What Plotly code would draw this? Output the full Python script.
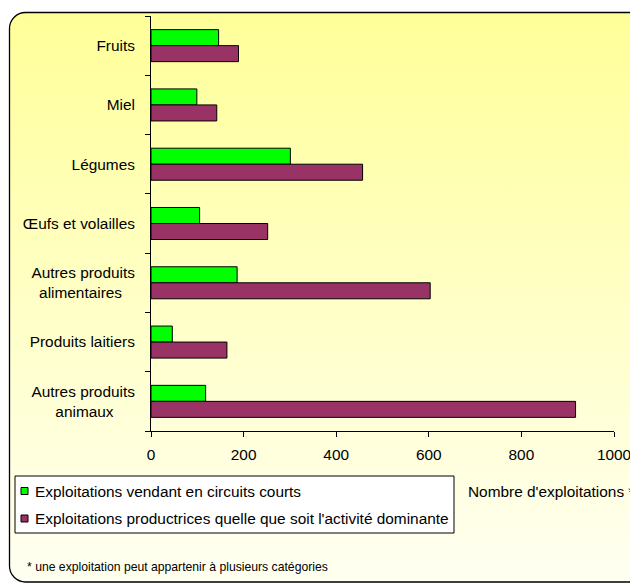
import base64
import plotly.graph_objects as go

# ---------------- data ----------------
categories = [
    "Fruits",
    "Miel",
    "Légumes",
    "Œufs et volailles",
    "Autres produits<br>alimentaires",
    "Produits laitiers",
    "Autres produits<br>animaux",
]
circuits_courts = [146, 99, 301, 105, 186, 46, 118]
toutes_exploitations = [189, 142, 457, 252, 603, 164, 917]
series_names = [
    "Exploitations vendant en circuits courts",
    "Exploitations productrices quelle que soit l'activité dominante",
]
series_colors = ["#00FF00", "#993366"]
x_tick_values = [0, 200, 400, 600, 800, 1000]
x_axis_title = "Nombre d'exploitations *"
footnote = "* une exploitation peut appartenir à plusieurs catégories"

# ---------------- layout geometry ----------------
OFF = 8                      # page body margin
W, H = 638 - OFF, 583 - OFF  # figure size
# plot area in page pixels
PL, PT, PW, PH = 151, 16, 463, 415
L, T = PL - OFF, PT - OFF
FONT = "Liberation Sans, Arial, sans-serif"
FS = 15.4


def px_x(x):  # page px -> paper
    return (x - PL) / PW


def px_y(y):  # page px -> paper
    return 1 - (y - PT) / PH


# centre second line of two-line labels by padding with nbsp
pad = {"alimentaires": 3, "animaux": 5}
tick_text = []
for c in categories:
    if "<br>" in c:
        a, b = c.split("<br>")
        tick_text.append(a + "<br>" + b + "\u00a0" * pad.get(b, 0))
    else:
        tick_text.append(c)

fig = go.Figure()
for name, vals, col in zip(series_names, [circuits_courts, toutes_exploitations], series_colors):
    fig.add_trace(go.Bar(
        y=categories, x=vals, orientation="h", name=name,
        marker=dict(color=col, line=dict(color="black", width=1)),
        showlegend=False,
    ))

# background: rounded gradient frame (figure coordinates)
svg = f'''<svg xmlns="http://www.w3.org/2000/svg" width="{W}" height="{H}" viewBox="0 0 {W} {H}">
<defs><linearGradient id="g" gradientUnits="userSpaceOnUse" x1="0" y1="{12 - OFF}" x2="0" y2="{582 - OFF}">
<stop offset="0" stop-color="#FFFF99"/><stop offset="1" stop-color="#FFFFF2"/>
</linearGradient></defs>
<rect x="{9.5 - OFF}" y="{12.5 - OFF}" width="680" height="{582 - 12.5}" rx="16" ry="16" fill="url(#g)" stroke="#000" stroke-width="1.3"/>
</svg>'''
src = "data:image/svg+xml;base64," + base64.b64encode(svg.encode("utf-8")).decode("ascii")

shapes = []
annotations = []
# custom legend box
shapes.append(dict(type="rect", xref="paper", yref="paper",
                   x0=px_x(15), x1=px_x(454), y0=px_y(476), y1=px_y(533),
                   line=dict(color="black", width=1), fillcolor="white", layer="above"))
for i, (name, col) in enumerate(zip(series_names, series_colors)):
    yc = 491 + i * 27.5
    shapes.append(dict(type="rect", xref="paper", yref="paper",
                       x0=px_x(21), x1=px_x(28), y0=px_y(yc - 3.5), y1=px_y(yc + 3.5),
                       line=dict(color="black", width=1), fillcolor=col, layer="above"))
    annotations.append(dict(xref="paper", yref="paper", x=px_x(33), y=px_y(yc),
                            xanchor="left", yanchor="middle", showarrow=False, text=name,
                            font=dict(family=FONT, size=FS, color="black")))
annotations.append(dict(xref="paper", yref="paper", x=px_x(466), y=px_y(491),
                        xanchor="left", yanchor="middle", showarrow=False, text=x_axis_title,
                        font=dict(family=FONT, size=FS, color="black")))
annotations.append(dict(xref="paper", yref="paper", x=px_x(25), y=px_y(567),
                        xanchor="left", yanchor="middle", showarrow=False, text=footnote,
                        font=dict(family=FONT, size=12.2, color="black")))

fig.update_layout(
    width=W, height=H,
    margin=dict(l=L, r=W - L - PW, t=T, b=H - T - PH, pad=0),
    paper_bgcolor="white",
    plot_bgcolor="rgba(0,0,0,0)",
    barmode="group", bargap=0.46, bargroupgap=0,
    font=dict(family=FONT, size=FS, color="black"),
    images=[dict(source=src, xref="paper", yref="paper",
                 x=-L / PW, y=1 + T / PH, sizex=W / PW, sizey=H / PH,
                 xanchor="left", yanchor="top", sizing="stretch", layer="below")],
    shapes=shapes,
    annotations=annotations,
    xaxis=dict(range=[0, 1000], tickvals=x_tick_values, showgrid=False, zeroline=False,
               showline=True, linecolor="black", linewidth=1,
               ticks="outside", ticklen=5, tickcolor="black", ticklabelstandoff=5,
               tickfont=dict(family=FONT, size=FS, color="black"), fixedrange=True),
    yaxis=dict(autorange="reversed", tickmode="array", tickvals=categories, ticktext=tick_text,
               showgrid=False, zeroline=False, showline=True, linecolor="black", linewidth=1,
               ticks="outside", ticklen=5, tickcolor="black", tickson="boundaries",
               ticklabelstandoff=12,
               tickfont=dict(family=FONT, size=FS, color="black"), fixedrange=True),
)

fig.write_html("out.html")
